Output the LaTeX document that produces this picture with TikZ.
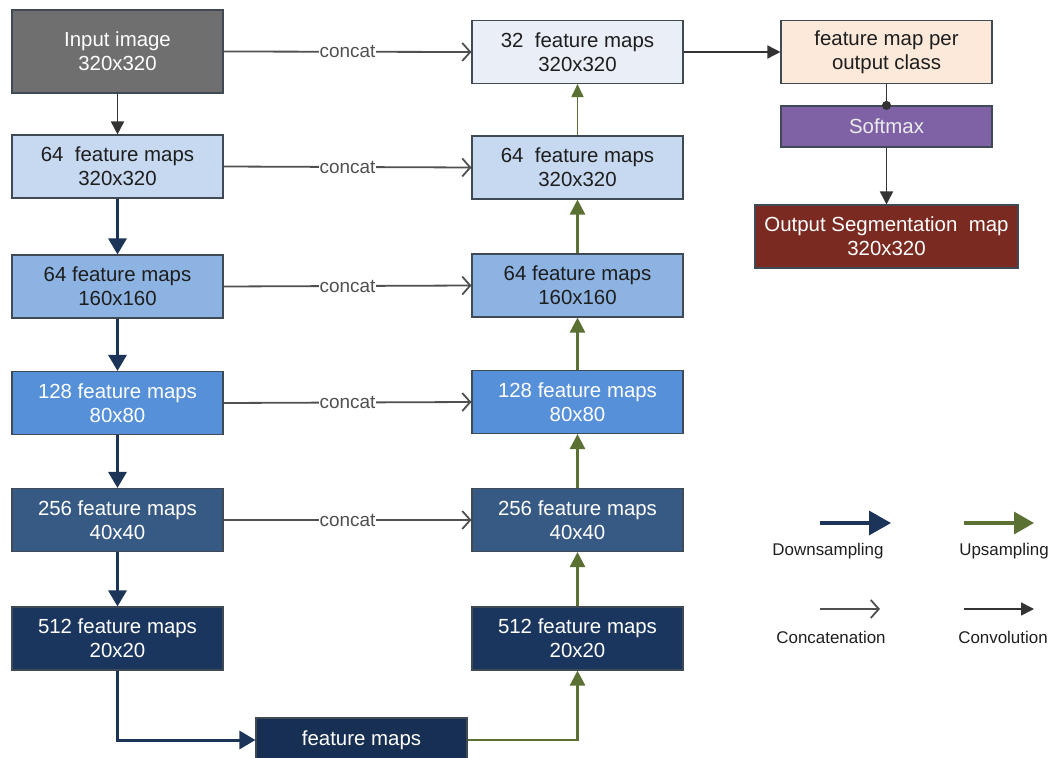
\documentclass[tikz,border=0pt]{standalone}
\usepackage{fontspec}
\setmainfont{Liberation Sans}
\usetikzlibrary{arrows.meta}

\definecolor{edge}{HTML}{3F4A55}
\definecolor{cInput}{HTML}{6F6F6F}
\definecolor{cLightest}{HTML}{E9EEF7}
\definecolor{cLight}{HTML}{C6D9F1}
\definecolor{cMid}{HTML}{8DB3E2}
\definecolor{cBlue}{HTML}{5690D8}
\definecolor{cSteel}{HTML}{375A85}
\definecolor{cNavy}{HTML}{1B365E}
\definecolor{cDeep}{HTML}{172F52}
\definecolor{cPeach}{HTML}{FCE9DA}
\definecolor{cPurple}{HTML}{7F62A6}
\definecolor{cRed}{HTML}{7A2A20}
\definecolor{downC}{HTML}{1B3457}
\definecolor{upC}{HTML}{5B7134}
\definecolor{catC}{HTML}{505050}
\definecolor{txtDark}{HTML}{1E1E1E}

\begin{document}
\begin{tikzpicture}[x=1bp,y=-1bp,
  box/.style={draw=edge, line width=1.1bp, minimum width=211bp, minimum height=63bp,
    inner sep=0pt, align=center, text=txtDark, font=\fontsize{20.5}{24}\selectfont},
  darkbox/.style={box, text=white},
  downarrow/.style={draw=downC, line width=3bp, -{Triangle[length=16bp,width=18bp]}},
  uparrow/.style={draw=upC, line width=2.6bp, -{Triangle[length=15bp,width=15bp]}},
  thinup/.style={draw=upC, line width=1.9bp, -{Triangle[length=13bp,width=12bp]}},
  catarrow/.style={draw=catC, line width=1.8bp, -{Straight Barb[length=8bp,width=18bp,line width=1.8bp]}},
  convarrow/.style={draw=black!80, line width=1.6bp, -{Triangle[length=13bp,width=13bp]}},
  catlabel/.style={fill=white, inner sep=1bp, text=catC, font=\fontsize{19}{20}\selectfont},
  legendtext/.style={text=txtDark, font=\fontsize{17}{20}\selectfont},
]
\useasboundingbox (0,0) rectangle (1059,758);

% contracting path
\node[darkbox, fill=cInput, minimum height=83bp] (in) at (117.5,51.5) {Input image\\320x320};
\node[box, fill=cLight]   (l1) at (117.5,166.5) {64\ \ feature maps\\320x320};
\node[box, fill=cMid]     (l2) at (117.5,286.5) {64 feature maps\\160x160};
\node[darkbox, fill=cBlue]  (l3) at (117.5,403)   {128 feature maps\\80x80};
\node[darkbox, fill=cSteel] (l4) at (117.5,520)   {256 feature maps\\40x40};
\node[darkbox, fill=cNavy]  (l5) at (117.5,638.5) {512 feature maps\\20x20};

% bottleneck
\node[darkbox, fill=cDeep, minimum height=44bp] (fm) at (361.5,740) {feature maps};

% expanding path
\node[box, fill=cLightest] (m0) at (577.5,52)    {32\ \ feature maps\\320x320};
\node[box, fill=cLight]    (m1) at (577.5,167.5) {64\ \ feature maps\\320x320};
\node[box, fill=cMid]      (m2) at (577.5,285.5) {64 feature maps\\160x160};
\node[darkbox, fill=cBlue]  (m3) at (577.5,402)   {128 feature maps\\80x80};
\node[darkbox, fill=cSteel] (m4) at (577.5,520)   {256 feature maps\\40x40};
\node[darkbox, fill=cNavy]  (m5) at (577.5,638.5) {512 feature maps\\20x20};

% output head
\node[box, fill=cPeach] (fc) at (886.5,52) {feature map per\\output class};
\node[box, fill=cPurple, text=white!92!black, minimum height=41bp] (sm) at (886.5,126.5) {Softmax};
\node[darkbox, fill=cRed, minimum width=263bp] (out) at (886.5,236.5) {Output Segmentation\ \ map\\320x320};

% skip connections
\draw[catarrow] (in.east) -- node[catlabel] {concat} (m0.west);
\draw[catarrow] (l1.east) -- node[catlabel] {concat} (m1.west);
\draw[catarrow] (l2.east) -- node[catlabel] {concat} (m2.west);
\draw[catarrow] (l3.east) -- node[catlabel] {concat} (m3.west);
\draw[catarrow] (l4.east) -- node[catlabel] {concat} (m4.west);

% downsampling
\draw[convarrow] (in.south) -- (l1.north);
\draw[downarrow] (l1.south) -- (l2.north);
\draw[downarrow] (l2.south) -- (l3.north);
\draw[downarrow] (l3.south) -- (l4.north);
\draw[downarrow] (l4.south) -- (l5.north);
\draw[downarrow] (l5.south) |- (fm.west);

% upsampling
\draw[uparrow] (fm.east) -| (m5.south);
\draw[uparrow] (m5.north) -- (m4.south);
\draw[uparrow] (m4.north) -- (m3.south);
\draw[uparrow] (m3.north) -- (m2.south);
\draw[uparrow] (m2.north) -- (m1.south);
\draw[thinup]  (m1.north) -- (m0.south);

% head connections
\draw[convarrow] (m0.east) -- (fc.west);
\draw[draw=black!80, line width=1.6bp, -{Circle[length=9bp]}, shorten >=-4.5bp] (fc.south) -- (sm.north);
\draw[convarrow] (sm.south) -- (out.north);

% legend
\coordinate (dA) at (820,523);  \coordinate (dB) at (891,523);
\coordinate (uA) at (964,523);  \coordinate (uB) at (1034,523);
\coordinate (cA) at (820,609);  \coordinate (cB) at (880,609);
\coordinate (vA) at (964,609);  \coordinate (vB) at (1034,609);
\draw[draw=downC, line width=3.4bp, -{Triangle[length=22bp,width=24bp]}] (dA) -- (dB);
\draw[draw=upC, line width=3.4bp, -{Triangle[length=20bp,width=22bp]}] (uA) -- (uB);
\draw[catarrow] (cA) -- (cB);
\draw[convarrow] (vA) -- (vB);
\node[legendtext] (dL) at (828,551) {Downsampling};
\node[legendtext] (uL) at (1004,551) {Upsampling};
\node[legendtext] (cL) at (831,637) {Concatenation};
\node[legendtext] (vL) at (1003,637) {Convolution};
\end{tikzpicture}
\end{document}
